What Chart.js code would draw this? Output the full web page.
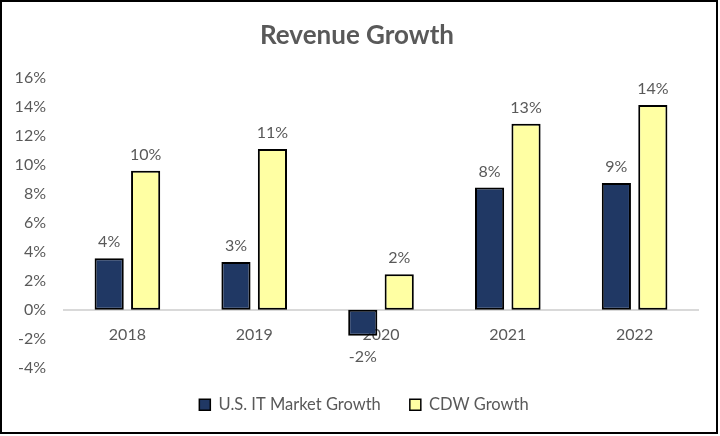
<!DOCTYPE html>
<html>
<head>
<meta charset="utf-8">
<script src="https://cdn.jsdelivr.net/npm/chart.js@4/dist/chart.umd.min.js"></script>
<style>
  html, body { margin: 0; padding: 0; background: #fff; }
  #frame { position: absolute; left: 0; top: 0; width: 718px; height: 434px; box-sizing: border-box; border: 2px solid #000; background: #fff; }
  #wrap { position: absolute; left: 2px; top: 2px; width: 714px; height: 430px; }
</style>
</head>
<body>
<div id="frame"><div id="wrap"><canvas id="c"></canvas></div></div>
<script>
const categories = ['2018', '2019', '2020', '2021', '2022'];
const usItMarketGrowth = [3.55, 3.3, -1.8, 8.45, 8.75];
const cdwGrowth = [9.6, 11.1, 2.45, 12.85, 14.15];
const seriesNames = ['U.S. IT Market Growth', 'CDW Growth'];
const yTicks = { min: -4, max: 16, step: 2 };

const FONT = 'Lato, "Open Sans", sans-serif';
const GREY = '#595959';

const valueLabels = {
  id: 'valueLabels',
  afterDatasetsDraw(chart) {
    const ctx = chart.ctx;
    ctx.save();
    ctx.font = '16px ' + FONT;
    ctx.fillStyle = GREY;
    ctx.textAlign = 'center';
    chart.data.datasets.forEach((ds, i) => {
      const meta = chart.getDatasetMeta(i);
      meta.data.forEach((bar, j) => {
        const v = ds.data[j];
        const txt = Math.round(v) + '%';
        if (v >= 0) {
          ctx.textBaseline = 'bottom';
          ctx.fillText(txt, bar.x, bar.y - 8);
        } else {
          ctx.textBaseline = 'top';
          ctx.fillText(txt, bar.x, bar.y + 13);
        }
      });
    });
    ctx.restore();
  }
};

const legendShift = {
  id: 'legendShift',
  afterLayout(chart) {
    if (chart.legend) {
      chart.legend.left += 7;
      chart.legend.right += 7;
    }
  }
};

new Chart(document.getElementById('c'), {
  type: 'bar',
  data: {
    labels: categories,
    datasets: [
      { label: seriesNames[0], data: usItMarketGrowth, backgroundColor: '#203864', borderColor: '#000', borderWidth: 2, borderSkipped: false },
      { label: seriesNames[1], data: cdwGrowth, backgroundColor: '#FFFFA3', borderColor: '#000', borderWidth: 2, borderSkipped: false }
    ]
  },
  options: {
    responsive: true,
    maintainAspectRatio: false,
    animation: false,
    categoryPercentage: 0.575,
    barPercentage: 0.8,
    layout: { padding: { left: 12, right: 20, top: 6, bottom: 11 } },
    plugins: {
      title: {
        display: true,
        text: 'Revenue Growth',
        color: GREY,
        font: { family: FONT, size: 26, weight: 'bold' },
        padding: { top: 10, bottom: 27 }
      },
      legend: {
        position: 'bottom',
        labels: {
          color: GREY,
          font: { family: FONT, size: 16.5 },
          boxWidth: 11,
          boxHeight: 11,
          useBorderRadius: false,
          padding: 29,
          generateLabels(chart) {
            return chart.data.datasets.map((ds, i) => ({
              text: ds.label,
              fillStyle: ds.backgroundColor,
              strokeStyle: '#000',
              lineWidth: 1.5,
              fontColor: GREY,
              datasetIndex: i,
              hidden: false
            }));
          }
        }
      },
      tooltip: { enabled: false }
    },
    scales: {
      x: {
        position: { y: 0 },
        grid: { display: false, drawTicks: false },
        border: { display: true, color: '#d9d9d9', width: 2 },
        ticks: { color: GREY, font: { family: FONT, size: 16 }, padding: 16 }
      },
      y: {
        min: yTicks.min,
        max: yTicks.max,
        grid: { display: false, drawTicks: false },
        border: { display: false },
        afterFit(scale) { scale.width = 48; },
        ticks: {
          stepSize: yTicks.step,
          color: GREY,
          font: { family: FONT, size: 16 },
          padding: 18,
          callback: v => v + '%'
        }
      }
    }
  },
  plugins: [valueLabels, legendShift]
});
</script>
</body>
</html>
